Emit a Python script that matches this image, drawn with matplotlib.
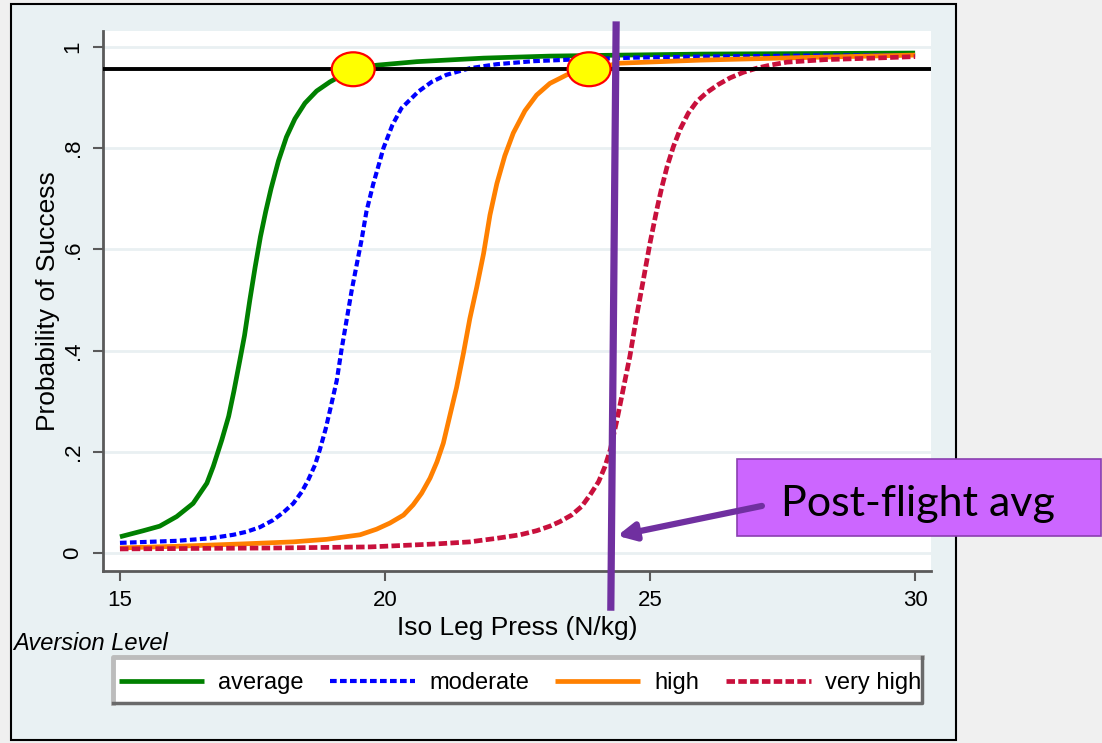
import matplotlib
matplotlib.use("Agg")
import matplotlib.pyplot as plt
from matplotlib.patches import Rectangle, Ellipse, FancyArrowPatch
from matplotlib.lines import Line2D

plt.rcParams['font.family'] = ['Liberation Sans', 'DejaVu Sans']

# curves (Iso Leg Press N/kg -> probability of success)
avg_x = [15.0, 15.44, 15.75, 16.07, 16.38, 16.64, 16.76, 16.92, 17.05, 17.15, 17.26, 17.35, 17.45,
         17.55, 17.65, 17.75, 17.85, 17.99, 18.14, 18.30, 18.49, 18.71, 18.96, 19.2, 19.4, 19.84,
         20.6, 21.86, 23.11, 24.5, 26.0, 28.0, 30.0]
avg_y = [0.032, 0.044, 0.053, 0.072, 0.098, 0.138, 0.171, 0.223, 0.27, 0.32, 0.38, 0.43, 0.50,
         0.565, 0.625, 0.675, 0.72, 0.775, 0.822, 0.858, 0.889, 0.913, 0.931, 0.945, 0.955, 0.964,
         0.971, 0.978, 0.982, 0.984, 0.986, 0.987, 0.988]

mod_x = [15.0, 16.07, 16.70, 17.14, 17.39, 17.64, 17.89, 18.08, 18.27, 18.43, 18.55, 18.68, 18.77,
         18.88, 18.98, 19.09, 19.18, 19.28, 19.37, 19.47, 19.56, 19.65, 19.78, 19.89, 19.97, 20.14,
         20.31, 20.63, 20.88, 21.16, 21.60, 22.11, 22.8, 23.5, 24.7, 26.0, 28.0, 30.0]
mod_y = [0.020, 0.024, 0.029, 0.036, 0.042, 0.051, 0.065, 0.080, 0.098, 0.121, 0.144, 0.174, 0.204,
         0.245, 0.29, 0.341, 0.402, 0.463, 0.518, 0.572, 0.62, 0.675, 0.73, 0.77, 0.80, 0.846,
         0.879, 0.912, 0.931, 0.945, 0.958, 0.966, 0.972, 0.975, 0.979, 0.981, 0.983, 0.984]

high_x = [15.0, 16.0, 17.33, 18.27, 18.9, 19.53, 19.84, 20.09, 20.35, 20.53, 20.69, 20.85, 20.98,
          21.10, 21.22, 21.35, 21.48, 21.6, 21.73, 21.86, 21.98, 22.11, 22.26, 22.42, 22.64, 22.86,
          23.11, 23.43, 23.86, 24.43, 25.94, 27.83, 30.0]
high_y = [0.010, 0.013, 0.018, 0.022, 0.027, 0.036, 0.047, 0.059, 0.075, 0.095, 0.118, 0.148, 0.180,
          0.217, 0.27, 0.327, 0.395, 0.463, 0.525, 0.592, 0.668, 0.73, 0.785, 0.83, 0.874, 0.905,
          0.928, 0.945, 0.956, 0.968, 0.974, 0.979, 0.984]

vhigh_x = [15.0, 16.5, 18.0, 19.72, 20.98, 21.60, 22.11, 22.55, 22.86, 23.11, 23.30, 23.52, 23.71,
           23.87, 24.03, 24.15, 24.25, 24.37, 24.5, 24.62, 24.75, 24.87, 25.0, 25.13, 25.22, 25.32,
           25.44, 25.57, 25.72, 25.88, 26.07, 26.29, 26.51, 26.76, 27.01, 27.26, 27.58, 28.3, 29.2, 30.0]
vhigh_y = [0.008, 0.009, 0.010, 0.012, 0.018, 0.022, 0.029, 0.036, 0.044, 0.053, 0.062, 0.075, 0.092,
           0.115, 0.141, 0.171, 0.204, 0.26, 0.327, 0.389, 0.47, 0.538, 0.613, 0.68, 0.722, 0.763,
           0.803, 0.838, 0.869, 0.892, 0.910, 0.926, 0.939, 0.950, 0.958, 0.964, 0.970, 0.975, 0.978, 0.981]

labels = ["average", "moderate", "high", "very high"]
xticks = [15, 20, 25, 30]
yticks = [0, 0.2, 0.4, 0.6, 0.8, 1.0]
ytick_labels = ["0", ".2", ".4", ".6", ".8", "1"]

# slide overlays
threshold = 0.956
circle_x = [19.4, 23.85]
circle_y = [0.956, 0.956]
postflight_x = [24.36, 24.26]
postflight_y = [1.0435, -0.107]
arrow_from = (27.11, 0.093)
arrow_to = (24.38, 0.034)

W, H = 1102, 743
def fx(x):
    return x / W
def fy(y):
    return 1 - y / H

fig = plt.figure(figsize=(W / 100, H / 100), dpi=100)
fig.patch.set_facecolor('#f0f0f0')

# stata graph region
fig.add_artist(Rectangle((fx(11), fy(740)), (956 - 11) / W, (740 - 4) / H, transform=fig.transFigure,
                         facecolor='#e9f1f3', edgecolor='black', lw=1.5, zorder=-1))

ax = fig.add_axes([fx(103), fy(571), (931 - 103) / W, (571 - 31) / H])
ax.set_facecolor('white')
ax.set_xlim(14.68, 30.3)
ax.set_ylim(-0.0356, 1.0316)

purple = '#7030a0'
ax.plot(avg_x, avg_y, color='#008000', lw=3.4, solid_capstyle='butt', label=labels[0])
ax.plot(mod_x, mod_y, color='#0000ff', lw=3.0, linestyle=(0, (1.6, 0.8)), label=labels[1])
ax.plot(high_x, high_y, color='#ff8000', lw=3.4, solid_capstyle='butt', label=labels[2])
ax.plot(vhigh_x, vhigh_y, color='#c8103c', lw=3.4, linestyle=(0, (1.8, 0.7)), label=labels[3])

ax.axhline(threshold, color='black', lw=2.8, zorder=5)
for cx, cy in zip(circle_x, circle_y):
    ax.add_patch(Ellipse((cx, cy), 0.81, 0.067, facecolor='#ffff00', edgecolor='#ff0000', lw=1.6, zorder=6))

ax.set_xticks(xticks)
ax.set_xticklabels([str(t) for t in xticks])
ax.set_yticks(yticks)
ax.set_yticklabels(ytick_labels, rotation=90, va='center')
ax.grid(axis='y', color='#e9f0f2', lw=2)
ax.set_axisbelow(True)
for s in ['top', 'right']:
    ax.spines[s].set_visible(False)
for s in ['left', 'bottom']:
    ax.spines[s].set_color('#5a5a5a')
    ax.spines[s].set_linewidth(2)
ax.tick_params(axis='both', length=7, width=1.5, color='#5a5a5a', labelsize=16, pad=7)

ax.set_xlabel("Iso Leg Press (N/kg)", fontsize=19, labelpad=3)
ax.set_ylabel("Probability of Success", fontsize=19, labelpad=2)

fig.text(fx(13), fy(643), "Aversion Level", fontsize=17, style='italic', va='center', ha='left')

# legend box with stata style shading
lx0, lx1, ly0, ly1 = 113, 922, 657, 703
fig.add_artist(Rectangle((fx(lx0), fy(ly1)), (lx1 - lx0) / W, (ly1 - ly0) / H, transform=fig.transFigure,
                         facecolor='white', edgecolor='none', zorder=1))
fig.add_artist(Line2D([fx(lx0), fx(lx0), fx(lx1)], [fy(ly1), fy(ly0), fy(ly0)], transform=fig.transFigure,
                      color='#bcbcbc', lw=3.5, zorder=2))
fig.add_artist(Line2D([fx(lx0), fx(lx1), fx(lx1)], [fy(ly1), fy(ly1), fy(ly0)], transform=fig.transFigure,
                      color='#6a6a6a', lw=2.5, zorder=2))
handles, labs = ax.get_legend_handles_labels()
fig.legend(handles, labs, loc='center', bbox_to_anchor=(fx(520), fy(683)), ncol=4, frameon=False,
           fontsize=17, handlelength=3.6, handletextpad=0.6, columnspacing=1.12)

# post-flight overlay
fig.add_artist(Line2D(postflight_x, postflight_y, transform=ax.transData, color=purple, lw=5.2, zorder=7))
fig.add_artist(Rectangle((fx(737), fy(536)), (1101 - 737) / W, (536 - 459) / H, transform=fig.transFigure,
                         facecolor='#cc66ff', edgecolor='#8a3fb0', lw=1.2, zorder=8))
fig.text(fx(918), fy(516), "Post-flight avg", fontsize=31, family=['Lato', 'DejaVu Sans'],
         ha='center', va='baseline', color='black', zorder=9)
fig.add_artist(FancyArrowPatch(arrow_from, arrow_to, transform=ax.transData, arrowstyle='-|>',
                               mutation_scale=26, color=purple, lw=4.5, shrinkA=0, shrinkB=0, zorder=10))

fig.savefig('out.png', dpi=100, facecolor=fig.get_facecolor())
